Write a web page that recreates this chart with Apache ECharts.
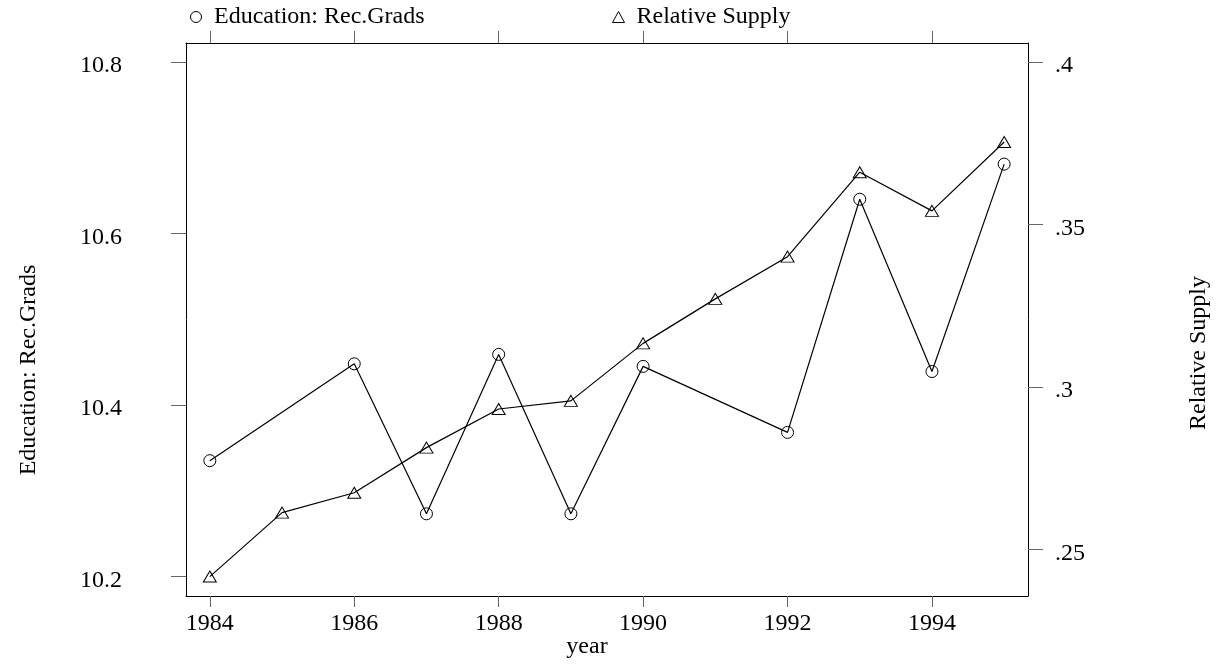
<!DOCTYPE html>
<html>
<head>
<meta charset="utf-8">
<script src="https://cdn.jsdelivr.net/npm/echarts@6/dist/echarts.min.js"></script>
<style>
html, body { margin: 0; padding: 0; background: #fff; }
#chart { width: 1217px; height: 664px; }
</style>
</head>
<body>
<div id="chart"></div>
<script>
var years = [1984, 1985, 1986, 1987, 1988, 1989, 1990, 1991, 1992, 1993, 1994, 1995];
var eduGrads = [10.335, null, 10.448, 10.273, 10.459, 10.273, 10.445, null, 10.368, 10.640, 10.439, 10.681];
var relSupply = [0.2416, 0.2613, 0.2674, 0.2813, 0.2932, 0.2957, 0.3134, 0.3271, 0.3401, 0.3661, 0.3542, 0.3754];
var yearTicks = [1984, 1986, 1988, 1990, 1992, 1994];
var eduTicks = [10.2, 10.4, 10.6, 10.8];
var supplyTicks = [0.25, 0.3, 0.35, 0.4];

var FONT = "'Liberation Serif', 'Times New Roman', serif";

function pairs(xs, ys) {
    var out = [];
    for (var i = 0; i < xs.length; i++) {
        out.push([xs[i], ys[i]]);
    }
    return out;
}

var chart = echarts.init(document.getElementById('chart'), null, {renderer: 'canvas'});

var tickStyle = {color: '#666', width: 1};
var lineBox = {show: true, lineStyle: {color: '#000', width: 1}};

var option = {
    animation: false,
    backgroundColor: '#fff',
    textStyle: {fontFamily: FONT},
    grid: {left: 186, right: 189, top: 43, bottom: 68, containLabel: false},
    legend: [
        {
            left: 190, top: 5, padding: 0,
            itemWidth: 12, itemHeight: 11,
            textStyle: {fontFamily: FONT, fontSize: 24, color: '#000', padding: [0, 0, 0, 7]},
            data: [{name: 'Education: Rec.Grads', icon: 'circle',
                itemStyle: {color: 'rgba(0,0,0,0)', borderColor: '#000', borderWidth: 1}}]
        },
        {
            left: 612, top: 5, padding: 0,
            itemWidth: 12, itemHeight: 11,
            textStyle: {fontFamily: FONT, fontSize: 24, color: '#000', padding: [0, 0, 0, 7]},
            data: [{name: 'Relative Supply', icon: 'triangle',
                itemStyle: {color: 'rgba(0,0,0,0)', borderColor: '#000', borderWidth: 1}}]
        }
    ],
    xAxis: [
        {
            type: 'value', position: 'bottom',
            min: 1983.67, max: 1995.33,
            axisLine: lineBox,
            axisTick: {show: true, inside: false, length: 11, lineStyle: tickStyle, customValues: yearTicks},
            axisLabel: {show: true, margin: 16, fontFamily: FONT, fontSize: 24, color: '#000',
                customValues: yearTicks,
                formatter: function (v) { return String(Math.round(v)); }},
            splitLine: {show: false}
        },
        {
            type: 'value', position: 'top',
            min: 1983.67, max: 1995.33,
            axisLine: lineBox,
            axisTick: {show: true, inside: false, length: 12, lineStyle: tickStyle, customValues: yearTicks},
            axisLabel: {show: false},
            splitLine: {show: false}
        }
    ],
    yAxis: [
        {
            type: 'value', position: 'left',
            min: 10.1771, max: 10.8223,
            axisLine: lineBox,
            axisTick: {show: true, inside: false, length: 15, lineStyle: tickStyle, customValues: eduTicks},
            axisLabel: {show: true, margin: 64, fontFamily: FONT, fontSize: 24, color: '#000',
                verticalAlign: 'top', lineHeight: 8,
                customValues: eduTicks,
                formatter: function (v) { return v.toFixed(1); }},
            splitLine: {show: false}
        },
        {
            type: 'value', position: 'right',
            min: 0.23562, max: 0.40588,
            axisLine: lineBox,
            axisTick: {show: true, inside: false, length: 15, lineStyle: tickStyle, customValues: supplyTicks},
            axisLabel: {show: true, margin: 27, fontFamily: FONT, fontSize: 24, color: '#000',
                verticalAlign: 'top', lineHeight: 8,
                customValues: supplyTicks,
                formatter: function (v) { return String(+v.toFixed(2)).replace(/^0/, ''); }},
            splitLine: {show: false}
        }
    ],
    graphic: [
        {type: 'text', x: 587, y: 647,
            style: {text: 'year', fontFamily: FONT, fontSize: 24, fill: '#000', align: 'center', verticalAlign: 'middle'}},
        {type: 'text', x: 29, y: 370, rotation: Math.PI / 2,
            style: {text: 'Education: Rec.Grads', fontFamily: FONT, fontSize: 24, fill: '#000', align: 'center', verticalAlign: 'middle'}},
        {type: 'text', x: 1199, y: 353, rotation: Math.PI / 2,
            style: {text: 'Relative Supply', fontFamily: FONT, fontSize: 24, fill: '#000', align: 'center', verticalAlign: 'middle'}}
    ],
    series: [
        {
            name: 'Education: Rec.Grads', type: 'line',
            xAxisIndex: 0, yAxisIndex: 0,
            data: pairs(years, eduGrads),
            connectNulls: true,
            symbol: 'circle', symbolSize: 12,
            itemStyle: {color: 'rgba(0,0,0,0)', borderColor: '#000', borderWidth: 1},
            lineStyle: {color: '#000', width: 1.2}
        },
        {
            name: 'Relative Supply', type: 'line',
            xAxisIndex: 0, yAxisIndex: 1,
            data: pairs(years, relSupply),
            symbol: 'triangle', symbolSize: [13, 11],
            itemStyle: {color: 'rgba(0,0,0,0)', borderColor: '#000', borderWidth: 1},
            lineStyle: {color: '#000', width: 1.2}
        }
    ]
};

chart.setOption(option);
</script>
</body>
</html>
